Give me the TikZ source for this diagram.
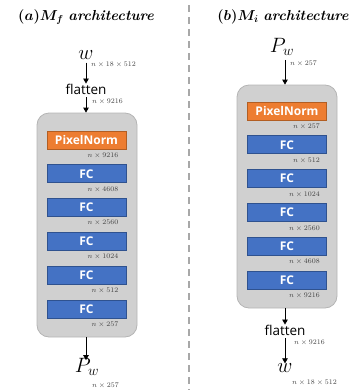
\documentclass[tikz,border=0pt]{standalone}
\usepackage{fontspec}
\usepackage{bm}
\usetikzlibrary{arrows.meta}
\newfontfamily\uifont{Open Sans}
\definecolor{pnfill}{HTML}{ED7D31}
\definecolor{pnedge}{HTML}{B25E23}
\definecolor{fcfill}{HTML}{4472C4}
\definecolor{fcedge}{HTML}{2F528F}
\definecolor{panel}{HTML}{D0D0D0}
\definecolor{paneledge}{HTML}{B4B4B4}
\definecolor{dimtext}{HTML}{404040}
\definecolor{divider}{HTML}{A8A8A8}

\tikzset{
  layer/.style={minimum width=79pt, minimum height=18pt, inner sep=0pt,
    font=\uifont\bfseries\fontsize{12}{13}\selectfont, text=white, line width=0.8pt},
  pnbox/.style={layer, fill=pnfill, draw=pnedge},
  fcbox/.style={layer, fill=fcfill, draw=fcedge},
  dim/.style={font=\fontsize{6.6}{7.5}\selectfont, text=dimtext, inner sep=0pt, anchor=east},
  flow/.style={-{Triangle[width=5.5pt,length=5pt]}, line width=0.8pt},
  panelbox/.style={rounded corners=12pt, fill=panel, draw=paneledge, line width=0.8pt,
    minimum width=100pt, inner sep=0pt},
  heading/.style={font=\fontsize{14.5}{16}\selectfont, inner sep=0pt},
  bigvar/.style={font=\fontsize{22}{24}\selectfont, inner sep=0pt},
  word/.style={font=\uifont\fontsize{13.5}{15}\selectfont, inner sep=0pt},
}

\begin{document}
\begin{tikzpicture}[x=1pt,y=-1pt]
\useasboundingbox (0,0) rectangle (354,391);

% divider between the two panels
\draw[divider, line width=1.8pt, dash pattern=on 7pt off 5pt] (189,5) -- (189,390);

% ---------- left panel: M_f ----------
\node[heading] (titleL) at (86,17)
  {\textbf{(}$\bm{a}$\textbf{)}$\bm{M_f}$ \textbf{\textit{architecture}}};

\node[bigvar] (wL) at (86,55) {$w$};
\node[dim] at (136,65) {$n\times 18\times 512$};
\node[word] (flatL) at (86,89) {flatten};
\node[dim] at (123,101.5) {$n\times 9216$};

\node[panelbox, minimum height=224pt] (boxL) at (87,225) {};

\node[pnbox] (pnL) at (86.5,140) {PixelNorm};
\node[dim] at (118.5,155.5) {$n\times 9216$};
\node[fcbox] (fcL1) at (86.5,173.8) {FC};
\node[dim] at (118.5,189.3) {$n\times 4608$};
\node[fcbox] (fcL2) at (86.5,207.6) {FC};
\node[dim] at (118.5,223.1) {$n\times 2560$};
\node[fcbox] (fcL3) at (86.5,241.4) {FC};
\node[dim] at (118.5,256.9) {$n\times 1024$};
\node[fcbox] (fcL4) at (86.5,275.2) {FC};
\node[dim] at (118.5,290.7) {$n\times 512$};
\node[fcbox] (fcL5) at (86.5,309) {FC};
\node[dim] at (118.5,324.5) {$n\times 257$};

\node[bigvar] (pL) at (87,367) {$P_w$};
\node[dim] at (119,386) {$n\times 257$};

\draw[flow] (wL.south) ++(0,3) coordinate (a1) -- (a1 |- flatL.north);
\draw[flow] (flatL.south) ++(0,3) coordinate (a2) -- (a2 |- boxL.north);
\draw[flow] (boxL.south -| wL) -- ([yshift=-2pt]pL.north -| wL);

% ---------- right panel: M_i ----------
\node[heading] (titleR) at (283,17)
  {\textbf{(}$\bm{b}$\textbf{)}$\bm{M_i}$ \textbf{\textit{architecture}}};

\node[bigvar] (pR) at (282,47) {$P_w$};
\node[dim] at (317,64) {$n\times 257$};

\node[panelbox, minimum height=223pt] (boxR) at (287,196.5) {};

\node[pnbox] (pnR) at (287,111) {PixelNorm};
\node[dim] at (320,127) {$n\times 257$};
\node[fcbox] (fcR1) at (287,144.8) {FC};
\node[dim] at (320,161) {$n\times 512$};
\node[fcbox] (fcR2) at (287,178.6) {FC};
\node[dim] at (320,195) {$n\times 1024$};
\node[fcbox] (fcR3) at (287,212.4) {FC};
\node[dim] at (320,229) {$n\times 2560$};
\node[fcbox] (fcR4) at (287,246.2) {FC};
\node[dim] at (320,262) {$n\times 4608$};
\node[fcbox] (fcR5) at (287,280) {FC};
\node[dim] at (320,296) {$n\times 9216$};

\node[word] (flatR) at (285,330) {flatten};
\node[dim] at (325,343) {$n\times 9216$};
\node[bigvar] (wR) at (285,368) {$w$};
\node[dim] at (337,383) {$n\times 18\times 512$};

\draw[flow] (pR.south -| wR) ++(0,4) coordinate (b1) -- (b1 |- boxR.north);
\draw[flow] (boxR.south -| wR) -- (flatR.north -| wR);
\draw[flow] (flatR.south -| wR) ++(0,3) coordinate (b2) -- (b2 |- wR.north);
\end{tikzpicture}
\end{document}
